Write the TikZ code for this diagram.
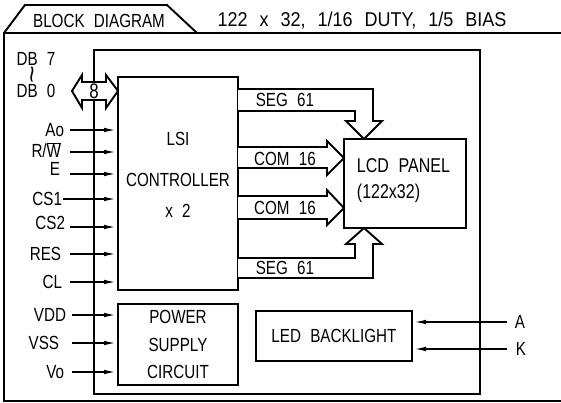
\documentclass[tikz,border=0pt]{standalone}
\usepackage{fontspec}
\setmainfont{Liberation Sans}[FakeStretch=0.8,WordSpace=2.2]
\newfontfamily\headfont{Liberation Sans}[FakeStretch=0.9,WordSpace=2.4]
\usetikzlibrary{arrows.meta}
\begin{document}
\begin{tikzpicture}[x=1pt,y=-1pt,line width=1.9pt,
  box/.style={draw,line width=1.9pt,inner sep=0pt,outer sep=0pt},
  txt/.style={inner sep=0pt,font=\fontsize{19}{19}\selectfont},
  big/.style={inner sep=0pt,font=\fontsize{20}{20}\selectfont},
  sig/.style={-{Latex[length=14pt,width=4.5pt]}},
  hollow/.style={draw,fill=white,line width=1.9pt,line join=miter}]
\useasboundingbox (0,0) rectangle (561,403);
% outer frame and tab
\draw (561,33) -- (4,33) -- (4,401) -- (561,401);
\draw (4,33) -- (25,5) -- (167,5) -- (197,33);
\node[txt] (title) at (99,21) {BLOCK DIAGRAM};
\node[inner sep=0pt,font=\headfont\fontsize{20}{20}\selectfont] (head) at (362,21) {122 x 32, 1/16 DUTY, 1/5 BIAS};
% inner frame
\draw (94,50) rectangle (480,394);
% blocks
\node[box,minimum width=120pt,minimum height=213pt] (lsi) at (178,183.5) {};
\node[txt] (lsi1) at (178,139) {LSI};
\node[txt] (lsi2) at (178,180) {CONTROLLER};
\node[txt] (lsi3) at (178,211) {x 2};
\node[box,minimum width=120pt,minimum height=81pt] (pwr) at (178,344.5) {};
\node[txt] (pwr1) at (178,317) {POWER};
\node[txt] (pwr2) at (178,345) {SUPPLY};
\node[txt] (pwr3) at (178,372) {CIRCUIT};
\node[box,minimum width=156pt,minimum height=50pt] (led) at (334,336) {};
\node[txt] (ledt) at (334,336) {LED BACKLIGHT};
\node[box,minimum width=122pt,minimum height=89pt] (lcd) at (405,183.5) {};
\node[big,anchor=west] (lcd1) at (356,166) {LCD PANEL};
\node[big,anchor=west] (lcd2) at (356,193) {(122x32)};
% data bus
\node[txt] (db7) at (36,59) {DB 7};
\node[inner sep=0pt,rotate=90,font=\fontsize{19}{19}\selectfont] (dbt) at (36,75) {\scalebox{2}[1.3]{\textasciitilde}};
\node[txt] (db0) at (36,91) {DB 0};
\draw[hollow] (72,91) -- (82,75) -- (82,82) -- (106,82) -- (106,75) -- (lsi.west |- 0,91)
  -- (106,108) -- (106,100) -- (82,100) -- (82,108) -- cycle;
\node[inner sep=0pt,font=\fontsize{21}{21}\selectfont] (bus) at (94,91) {8};
% inputs to controller
\foreach \n/\y/\lx/\ly/\t/\sx in {a0/130/65/130/Ao/70,rw/152/62/150/{R/$\overline{\mbox{W}}$}/70,e/174/61/169/E/70,cs1/199/63/199/CS1/63,cs2/227/66/223/CS2/70,res/254/62/254/RES/70,cl/282/63/282/CL/70}{
  \node[txt,anchor=east] (l\n) at (\lx,\ly) {\t};
  \coordinate (s\n) at (\sx,\y);
  \draw[sig] (s\n) -- (s\n -| lsi.west);
}
% power inputs
\foreach \n/\y/\lx/\t in {vdd/315/67/VDD,vss/343/60/VSS,vo/372/65/Vo}{
  \node[txt,anchor=east] (l\n) at (\lx,\y) {\t};
  \coordinate (s\n) at (72,\y);
  \draw[sig] (s\n) -- (s\n -| pwr.west);
}
% backlight inputs
\node[txt] (la) at (520,322) {A};
\node[txt] (lk) at (521,349) {K};
\coordinate (sa) at (507,322);
\coordinate (sk) at (507,349);
\draw[sig] (sa) -- (sa -| led.east);
\draw[sig] (sk) -- (sk -| led.east);
% SEG / COM buses
\draw[hollow] (lsi.east |- 0,89) -- (373,89) -- (373,121) -- (382,121) -- (lcd.north -| 364,0)
  -- (346,121) -- (355,121) -- (355,111) -- (lsi.east |- 0,111);
\draw[hollow] (lsi.east |- 0,278) -- (373,278) -- (373,244) -- (382,244) -- (lcd.south -| 364,0)
  -- (346,244) -- (355,244) -- (355,258) -- (lsi.east |- 0,258);
\draw[hollow] (lsi.east |- 0,147) -- (327,147) -- (327,141) -- (lcd.west |- 0,158)
  -- (327,175) -- (327,168) -- (lsi.east |- 0,168);
\draw[hollow] (lsi.east |- 0,196) -- (327,196) -- (327,190) -- (lcd.west |- 0,208)
  -- (327,225) -- (327,219) -- (lsi.east |- 0,219);
\node[txt] (seg1) at (285,100) {SEG 61};
\node[txt] (com1) at (285,159) {COM 16};
\node[txt] (com2) at (285,208) {COM 16};
\node[txt] (seg2) at (285,268) {SEG 61};
\end{tikzpicture}
\end{document}
